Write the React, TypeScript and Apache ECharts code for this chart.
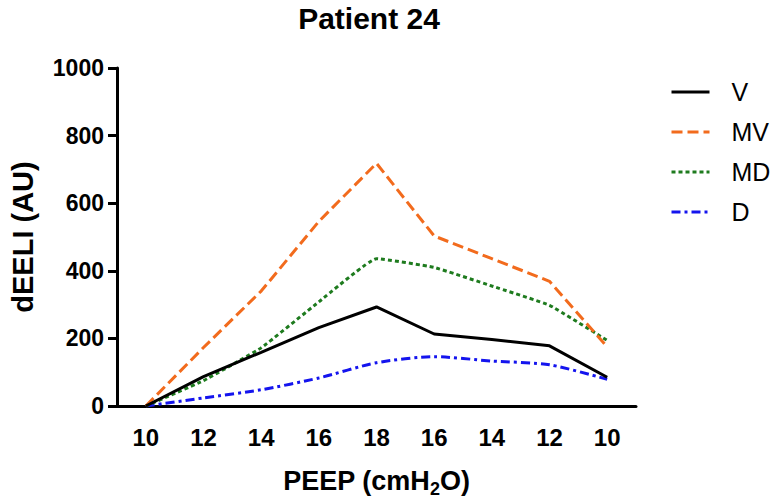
import React, { useEffect, useRef } from "react";
import * as echarts from "echarts";

const categories = ["10", "12", "14", "16", "18", "16", "14", "12", "10"];
const seriesV = [0, 87, 159, 232, 293, 213, 197, 178, 85];
const seriesMV = [0, 173, 340, 546, 718, 503, 436, 369, 175];
const seriesMD = [0, 75, 172, 308, 436, 410, 355, 298, 194];
const seriesD = [0, 24, 48, 83, 128, 146, 133, 122, 79];
const yTicks = { min: 0, max: 1000, interval: 200 };

const FONT = "'Liberation Sans', Arial, Helvetica, sans-serif";

export default function App() {
  const ref = useRef<HTMLDivElement>(null);
  useEffect(() => {
    if (!ref.current) return;
    const chart = echarts.init(ref.current, undefined, { renderer: "svg" });
    const mkLine = (name: string, data: number[], color: string, dash: any, smooth: number | boolean) => ({
      name,
      type: "line",
      data,
      symbol: "none",
      smooth,
      lineStyle: { color, width: 3, type: dash },
      itemStyle: { color },
    });
    chart.setOption({
      animation: false,
      backgroundColor: "#ffffff",
      textStyle: { fontFamily: FONT },
      title: {
        text: "Patient 24",
        left: 369,
        textAlign: "center",
        top: 3,
        padding: 0,
        textStyle: { fontFamily: FONT, fontSize: 30, fontWeight: "bold", color: "#000", lineHeight: 30 },
      },
      legend: {
        orient: "vertical",
        left: 670,
        top: 79,
        padding: 0,
        itemWidth: 38,
        itemHeight: 14,
        itemGap: 14,
        itemStyle: { opacity: 0 },
        lineStyle: { width: 3 },
        textStyle: {
          fontFamily: FONT,
          fontSize: 25,
          color: "#000",
          lineHeight: 26,
          padding: [0, 0, 0, 17],
        },
        data: ["V", "MV", "MD", "D"],
      },
      grid: { left: 110, top: 68, width: 526, height: 349, containLabel: false },
      xAxis: {
        type: "category",
        data: categories,
        boundaryGap: true,
        axisLine: { lineStyle: { color: "#000", width: 3 } },
        axisTick: { alignWithLabel: true, length: 8, lineStyle: { color: "#000", width: 3 } },
        axisLabel: { fontFamily: FONT, fontSize: 24, fontWeight: "bold", color: "#000", margin: 19 },
        name: "{a|PEEP (cmH}{s|2}{a|O)}",
        nameLocation: "middle",
        nameGap: 58,
        nameTextStyle: {
          rich: {
            a: { fontFamily: FONT, fontSize: 27, fontWeight: "bold", color: "#000", lineHeight: 34 },
            s: { fontFamily: FONT, fontSize: 18, fontWeight: "bold", color: "#000", verticalAlign: "bottom", lineHeight: 34 },
          },
        },
      },
      yAxis: {
        type: "value",
        min: yTicks.min,
        max: yTicks.max,
        interval: yTicks.interval,
        splitLine: { show: false },
        axisLine: { show: true, lineStyle: { color: "#000", width: 3 } },
        axisTick: { show: true, length: 9, lineStyle: { color: "#000", width: 3 } },
        axisLabel: {
          fontFamily: FONT,
          fontSize: 23,
          fontWeight: "bold",
          color: "#000",
          margin: 13,
          formatter: (v: number) => String(v),
        },
        name: "dEELI (AU)",
        nameLocation: "middle",
        nameGap: 80,
        nameTextStyle: { fontFamily: FONT, fontSize: 29, fontWeight: "bold", color: "#000" },
      },
      series: [
        mkLine("D", seriesD, "#1414EE", [9, 4, 3, 4], 0.25),
        mkLine("MD", seriesMD, "#1E7B1E", [4, 3], 0.1),
        mkLine("MV", seriesMV, "#F26B1D", [11, 5], false),
        mkLine("V", seriesV, "#000000", "solid", false),
      ],
    });
    return () => chart.dispose();
  }, []);
  return (
    <div
      ref={ref}
      style={{ position: "fixed", left: 0, top: 0, width: 774, height: 503 }}
    />
  );
}
